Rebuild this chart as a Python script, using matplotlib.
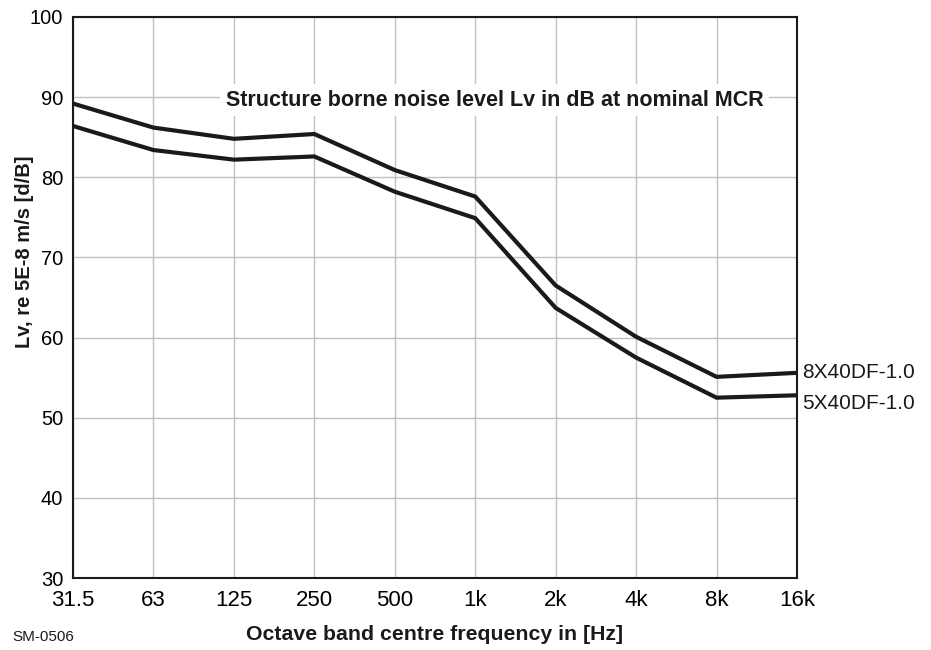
import matplotlib
matplotlib.use("Agg")
import matplotlib.pyplot as plt

plt.rcParams['font.family'] = ['Liberation Sans', 'DejaVu Sans']

freq_labels = ["31.5", "63", "125", "250", "500", "1k", "2k", "4k", "8k", "16k"]
lv_8x40 = [89.2, 86.2, 84.8, 85.4, 80.9, 77.6, 66.5, 60.1, 55.1, 55.6]
lv_5x40 = [86.4, 83.4, 82.2, 82.6, 78.2, 74.9, 63.7, 57.5, 52.5, 52.8]
series_names = ["8X40DF-1.0", "5X40DF-1.0"]
y_ticks = [30, 40, 50, 60, 70, 80, 90, 100]

fig = plt.figure(figsize=(9.31, 6.50), dpi=100)
ax = fig.add_axes([73/931, 1 - 578/650, (797-73)/931, (578-17)/650])

x = list(range(len(freq_labels)))
label_offsets = [0, -6]
for vals, name, off in zip([lv_8x40, lv_5x40], series_names, label_offsets):
    ax.plot(x, vals, color='#1a1a1a', lw=3.0, solid_joinstyle='miter', zorder=3)
    ax.annotate(name, xy=(x[-1], vals[-1]), xytext=(4, off), textcoords='offset points',
                fontsize=15, va='center', ha='left', color='#1a1a1a', annotation_clip=False)

ax.set_xlim(0, len(freq_labels) - 1)
ax.set_ylim(30, 100)
ax.set_xticks(x)
ax.set_xticklabels(freq_labels, fontsize=16)
ax.set_yticks(y_ticks)
ax.set_yticklabels([str(v) for v in y_ticks], fontsize=14.5)
ax.tick_params(axis='x', length=0, pad=9)
ax.tick_params(axis='y', length=0, pad=7)
ax.grid(True, color='#c0c0c0', lw=1.0, zorder=0)
for s in ax.spines.values():
    s.set_color('#1a1a1a')
    s.set_linewidth(1.5)

ax.text(5.24, 89.6, "Structure borne noise level Lv in dB at nominal MCR",
        fontsize=15.5, fontweight='bold', ha='center', va='center', color='#1a1a1a',
        bbox=dict(facecolor='white', edgecolor='none', pad=4), zorder=4)

ax.set_xlabel("Octave band centre frequency in [Hz]", fontsize=15.3, fontweight='bold',
              labelpad=10, color='#1a1a1a')
ax.set_ylabel("Lv, re 5E-8 m/s [d/B]", fontsize=14.5, fontweight='bold', color='#1a1a1a',
              va='center', ha='center')
ax.yaxis.set_label_coords((24 - 73) / 724, (578 - 252) / 561)
fig.text(12/931, 1 - 637/650, "SM-0506", fontsize=11, va='center', ha='left', color='#1a1a1a')

fig.savefig("out.png", dpi=100)
